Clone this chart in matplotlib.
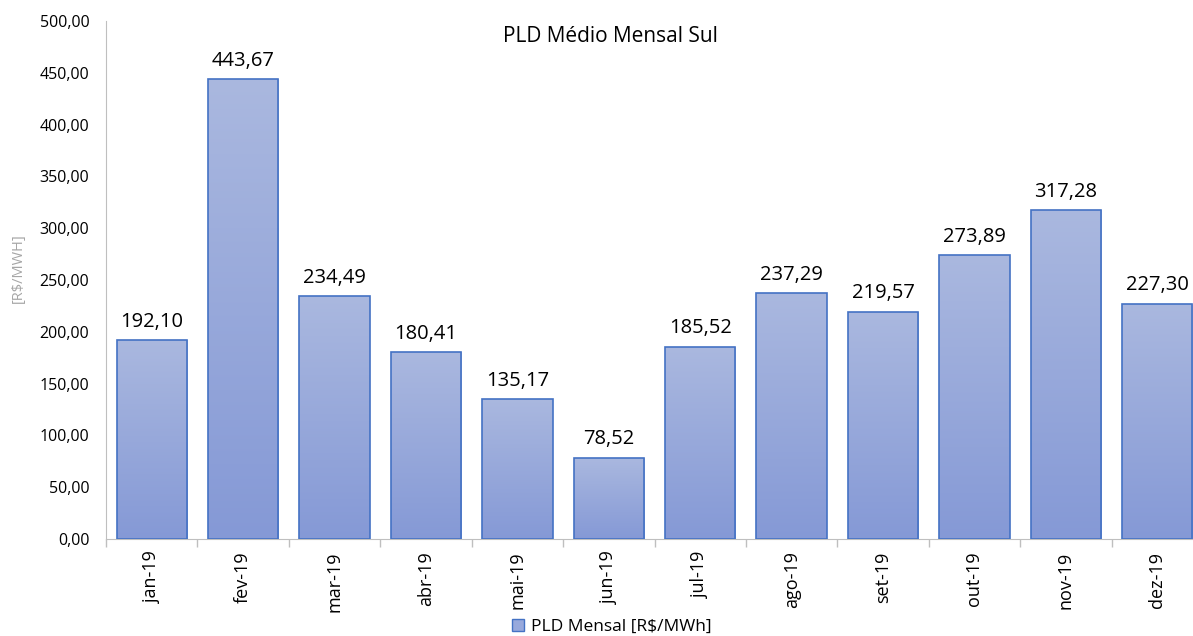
import numpy as np
import matplotlib.pyplot as plt
from matplotlib.ticker import FuncFormatter, FixedLocator
from matplotlib.colors import LinearSegmentedColormap
from matplotlib.patches import Patch

plt.rcParams['font.family'] = ['Open Sans', 'DejaVu Sans']

meses = ['jan-19', 'fev-19', 'mar-19', 'abr-19', 'mai-19', 'jun-19',
         'jul-19', 'ago-19', 'set-19', 'out-19', 'nov-19', 'dez-19']
pld = [192.10, 443.67, 234.49, 180.41, 135.17, 78.52,
       185.52, 237.29, 219.57, 273.89, 317.28, 227.30]

W, H = 1193, 636
fig = plt.figure(figsize=(W / 100, H / 100), dpi=100)
ax = fig.add_axes([106 / W, (H - 539) / H, (1203 - 106) / W, (539 - 21) / H])

x = np.arange(len(meses))
bars = ax.bar(x, pld, width=0.77, color='none', edgecolor='#4472c4',
              linewidth=1.2, zorder=3, label='PLD Mensal [R$/MWh]')

# gradiente (mais claro em cima)
grad = np.linspace(0, 1, 256).reshape(-1, 1)
cmap = LinearSegmentedColormap.from_list('g', ['#aab8df', '#8599d6'])
for b in bars:
    x0, y0 = b.get_x(), b.get_y()
    im = ax.imshow(grad, extent=[x0, x0 + b.get_width(), y0, y0 + b.get_height()],
                   aspect='auto', cmap=cmap, origin='upper', zorder=2)
    im.set_clip_path(b)

for xi, v in zip(x, pld):
    ax.annotate(f'{v:.2f}'.replace('.', ','), (xi, v), xytext=(0, 6),
                textcoords='offset points', ha='center', va='bottom',
                fontsize=14.5, color='#000000')

ax.set_xlim(-0.5, len(meses) - 0.5)
ax.set_ylim(0, 500)
ax.set_yticks(np.arange(0, 501, 50))
ax.yaxis.set_major_formatter(FuncFormatter(lambda v, p: f'{v:.2f}'.replace('.', ',')))
ax.tick_params(axis='y', length=0, labelsize=11.5, pad=12, labelcolor='#000000')

ax.set_xticks(x)
ax.set_xticklabels(meses, rotation=90, fontsize=13)
ax.tick_params(axis='x', which='major', length=0, pad=9)
ax.xaxis.set_minor_locator(FixedLocator(np.arange(-0.5, len(meses), 1)))
ax.tick_params(axis='x', which='minor', length=6, color='#bfbfbf', width=1)

for s in ['top', 'right']:
    ax.spines[s].set_visible(False)
ax.spines['left'].set_color('#bfbfbf')
ax.spines['bottom'].set_color('#bfbfbf')

fig.text(18 / W, (H - 268) / H, '[R$/MWH]', rotation=90, ha='center', va='center',
         fontsize=10.5, color='#a6a6a6')
fig.text(610 / W, (H - 37) / H, 'PLD Médio Mensal Sul', ha='center', va='center',
         fontsize=15, color='#000000')

h = Patch(facecolor='#98a9dc', edgecolor='#4472c4', linewidth=1)
fig.legend([h], ['PLD Mensal [R$/MWh]'], loc='center', bbox_to_anchor=(612 / W, (H - 627) / H),
           frameon=False, fontsize=12.5, handlelength=0.7, handleheight=0.7, handletextpad=0.4,
           borderpad=0)

fig.savefig('out.png', dpi=100)
